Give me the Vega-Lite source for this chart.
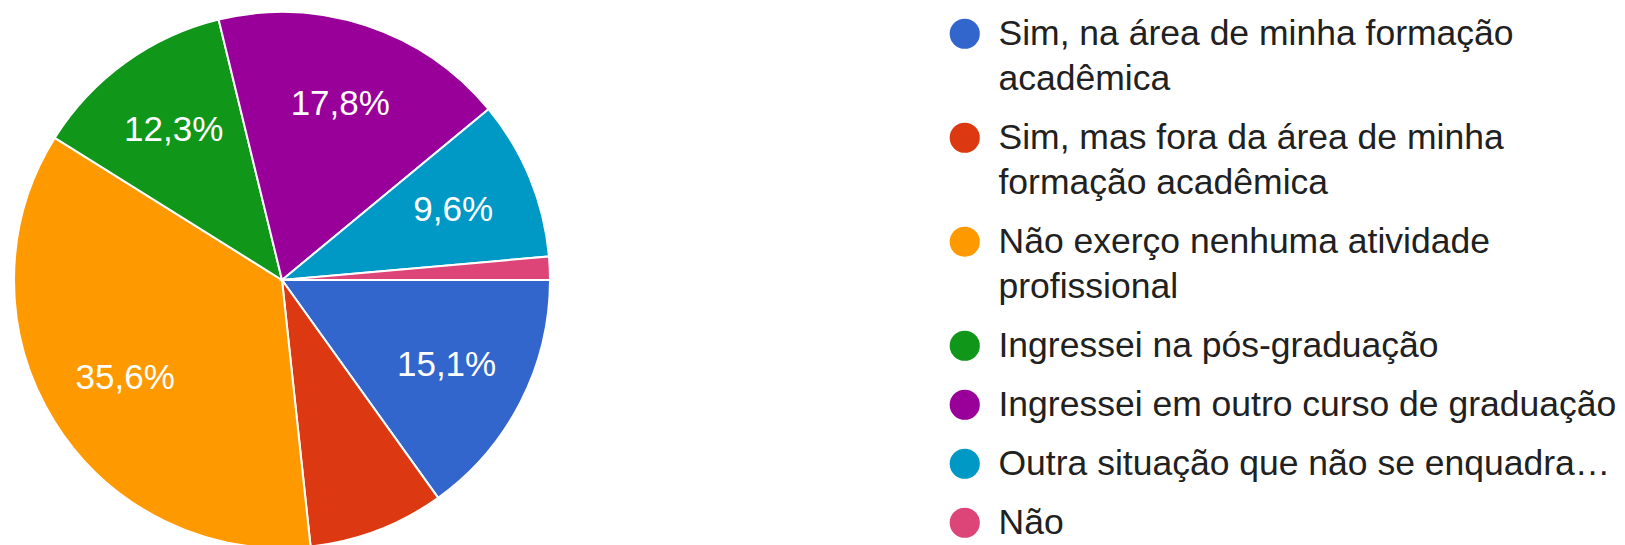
{
  "$schema": "https://vega.github.io/schema/vega-lite/v6.json",
  "autosize": {"type": "none"},
  "width": 564,
  "height": 530,
  "padding": {"left": 0, "top": 15, "right": 1061, "bottom": 0},
  "background": "white",
  "config": {
    "view": {"stroke": null},
    "style": {"guide-label": {"dy": -17, "lineHeight": 45}},
    "locale": {
      "number": {"decimal": ",", "thousands": ".", "grouping": [3], "currency": ["R$", ""]}
    }
  },
  "data": {
    "values": [
      {"i": 1, "resposta": "Sim, na área de minha formação acadêmica", "frac": 0.151},
      {"i": 2, "resposta": "Sim, mas fora da área de minha formação acadêmica", "frac": 0.082},
      {"i": 3, "resposta": "Não exerço nenhuma atividade profissional", "frac": 0.356},
      {"i": 4, "resposta": "Ingressei na pós-graduação", "frac": 0.123},
      {"i": 5, "resposta": "Ingressei em outro curso de graduação", "frac": 0.178},
      {"i": 6, "resposta": "Outra situação que não se enquadra…", "frac": 0.096},
      {"i": 7, "resposta": "Não", "frac": 0.014}
    ]
  },
  "encoding": {
    "theta": {"field": "frac", "type": "quantitative", "stack": true, "scale": {"range": [1.5707963, 7.8539816]}},
    "order": {"field": "i", "type": "quantitative"}
  },
  "layer": [
    {
      "mark": {"type": "arc", "outerRadius": 268, "stroke": "white", "strokeWidth": 2},
      "encoding": {
        "color": {
          "field": "resposta",
          "type": "nominal",
          "sort": null,
          "scale": {
            "domain": [
              "Sim, na área de minha formação acadêmica",
              "Sim, mas fora da área de minha formação acadêmica",
              "Não exerço nenhuma atividade profissional",
              "Ingressei na pós-graduação",
              "Ingressei em outro curso de graduação",
              "Outra situação que não se enquadra…",
              "Não"
            ],
            "range": ["#3366cc", "#dc3912", "#ff9900", "#109618", "#990099", "#0099c6", "#dd4477"]
          },
          "legend": {
            "orient": "none",
            "legendX": 947,
            "legendY": 1,
            "title": null,
            "padding": 0,
            "symbolType": "circle",
            "symbolSize": 908,
            "symbolStrokeWidth": 0,
            "symbolOpacity": 1,
            "labelFont": "Liberation Sans",
            "labelFontSize": 35.5,
            "labelColor": "#212121",
            "labelOffset": 16,
            "labelLimit": 800,
            "rowPadding": 22,
            "labelBaseline": "top",
            "labelExpr": "datum.label == 'Sim, na área de minha formação acadêmica' ? ['Sim, na área de minha formação', 'acadêmica'] : datum.label == 'Sim, mas fora da área de minha formação acadêmica' ? ['Sim, mas fora da área de minha', 'formação acadêmica'] : datum.label == 'Não exerço nenhuma atividade profissional' ? ['Não exerço nenhuma atividade', 'profissional'] : datum.label"
          }
        }
      }
    },
    {
      "mark": {"type": "text", "radius": 185, "fill": "white", "font": "Liberation Sans", "fontSize": 35, "align": "center", "baseline": "middle"},
      "encoding": {
        "text": {"field": "frac", "type": "quantitative", "format": ".1%"},
        "opacity": {"condition": {"test": "datum.frac < 0.09", "value": 0}, "value": 1}
      }
    }
  ]
}
